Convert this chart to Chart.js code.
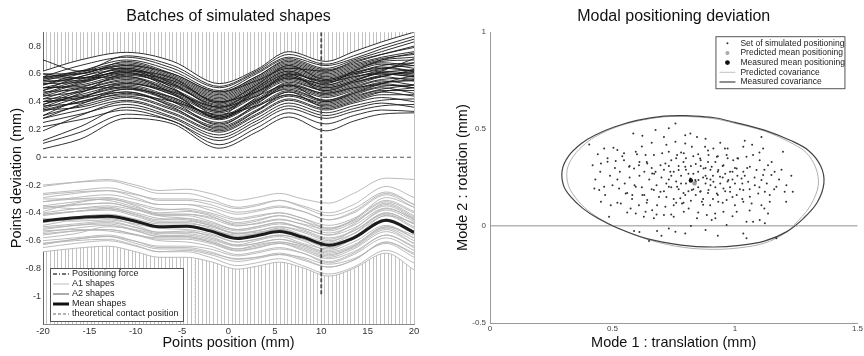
<!DOCTYPE html>
<html>
<head>
<meta charset="utf-8">
<script src="https://cdn.jsdelivr.net/npm/chart.js@4.4.1/dist/chart.umd.min.js"></script>
<style>
  body { margin: 0; background: #fff; }
  #wrap { position: relative; width: 864px; height: 356px; }
  canvas { position: absolute; top: 0; }
  #shapes { left: 0; }
  #modal { left: 432px; }
</style>
</head>
<body>
<div id="wrap">
  <canvas id="shapes" width="432" height="356"></canvas>
  <canvas id="modal" width="432" height="356"></canvas>
</div>
<script>
// ---- left panel: batches of simulated shapes ----
const A2_X = [-20, -16, -11, -6, -1, 3, 6.5, 10.5, 13.5, 16.5, 20];
const A2_SHAPES = [
  [0.62, 0.70, 0.755, 0.69, 0.53, 0.63, 0.76, 0.69, 0.76, 0.83, 0.90],
  [0.70, 0.62, 0.73, 0.66, 0.51, 0.62, 0.74, 0.67, 0.73, 0.80, 0.87],
  [0.58, 0.66, 0.72, 0.64, 0.50, 0.61, 0.72, 0.66, 0.71, 0.78, 0.85],
  [0.56, 0.62, 0.70, 0.62, 0.48, 0.60, 0.71, 0.64, 0.70, 0.76, 0.83],
  [0.60, 0.60, 0.69, 0.60, 0.47, 0.58, 0.70, 0.63, 0.68, 0.74, 0.79],
  [0.55, 0.61, 0.68, 0.59, 0.46, 0.58, 0.69, 0.62, 0.67, 0.72, 0.76],
  [0.58, 0.60, 0.67, 0.58, 0.45, 0.57, 0.68, 0.61, 0.66, 0.71, 0.74],
  [0.52, 0.58, 0.66, 0.57, 0.44, 0.56, 0.67, 0.60, 0.65, 0.70, 0.72],
  [0.57, 0.57, 0.65, 0.56, 0.43, 0.55, 0.66, 0.59, 0.64, 0.69, 0.70],
  [0.50, 0.56, 0.64, 0.55, 0.42, 0.54, 0.65, 0.58, 0.63, 0.68, 0.66],
  [0.55, 0.55, 0.63, 0.54, 0.41, 0.53, 0.64, 0.57, 0.62, 0.67, 0.64],
  [0.48, 0.55, 0.62, 0.53, 0.40, 0.52, 0.63, 0.56, 0.61, 0.66, 0.68],
  [0.53, 0.54, 0.61, 0.52, 0.39, 0.51, 0.62, 0.55, 0.60, 0.65, 0.62],
  [0.45, 0.53, 0.60, 0.51, 0.38, 0.50, 0.61, 0.54, 0.59, 0.64, 0.66],
  [0.50, 0.51, 0.58, 0.49, 0.36, 0.48, 0.59, 0.52, 0.57, 0.62, 0.60],
  [0.42, 0.50, 0.57, 0.48, 0.35, 0.47, 0.58, 0.51, 0.56, 0.61, 0.63],
  [0.47, 0.49, 0.56, 0.47, 0.34, 0.46, 0.57, 0.50, 0.55, 0.60, 0.58],
  [0.40, 0.48, 0.55, 0.46, 0.33, 0.45, 0.56, 0.49, 0.54, 0.59, 0.61],
  [0.44, 0.47, 0.54, 0.45, 0.32, 0.44, 0.55, 0.48, 0.53, 0.58, 0.55],
  [0.38, 0.45, 0.52, 0.43, 0.30, 0.42, 0.53, 0.46, 0.51, 0.56, 0.57],
  [0.42, 0.44, 0.51, 0.42, 0.29, 0.41, 0.52, 0.45, 0.50, 0.55, 0.52],
  [0.35, 0.43, 0.50, 0.41, 0.28, 0.40, 0.51, 0.44, 0.49, 0.54, 0.55],
  [0.40, 0.42, 0.49, 0.40, 0.27, 0.39, 0.50, 0.43, 0.48, 0.53, 0.50],
  [0.33, 0.40, 0.47, 0.38, 0.25, 0.37, 0.48, 0.41, 0.46, 0.51, 0.52],
  [0.37, 0.39, 0.46, 0.37, 0.24, 0.36, 0.47, 0.40, 0.45, 0.50, 0.46],
  [0.30, 0.37, 0.44, 0.35, 0.22, 0.34, 0.45, 0.38, 0.43, 0.48, 0.48],
  [0.34, 0.36, 0.43, 0.34, 0.21, 0.33, 0.44, 0.37, 0.42, 0.47, 0.44],
  [0.28, 0.34, 0.41, 0.32, 0.19, 0.31, 0.42, 0.35, 0.40, 0.45, 0.45],
  [0.19, 0.30, 0.40, 0.31, 0.18, 0.30, 0.41, 0.34, 0.39, 0.43, 0.40],
  [0.25, 0.31, 0.38, 0.29, 0.16, 0.28, 0.39, 0.32, 0.37, 0.41, 0.42],
  [0.12, 0.22, 0.36, 0.28, 0.14, 0.26, 0.37, 0.30, 0.35, 0.39, 0.36],
  [0.22, 0.27, 0.34, 0.26, 0.12, 0.24, 0.35, 0.28, 0.33, 0.37, 0.38],
  [0.10, 0.18, 0.31, 0.26, 0.09, 0.21, 0.32, 0.24, 0.30, 0.34, 0.33],
  [0.06, 0.13, 0.28, 0.24, 0.065, 0.18, 0.29, 0.19, 0.26, 0.31, 0.32],
  [0.48, 0.58, 0.63, 0.50, 0.30, 0.50, 0.62, 0.52, 0.58, 0.60, 0.58],
  [0.36, 0.46, 0.60, 0.55, 0.40, 0.47, 0.57, 0.53, 0.62, 0.70, 0.75],
  [0.60, 0.57, 0.58, 0.46, 0.28, 0.43, 0.60, 0.47, 0.52, 0.58, 0.62],
  [0.30, 0.42, 0.53, 0.47, 0.36, 0.44, 0.52, 0.46, 0.50, 0.52, 0.50],
  [0.52, 0.60, 0.66, 0.60, 0.47, 0.55, 0.64, 0.62, 0.69, 0.74, 0.80],
  [0.44, 0.50, 0.50, 0.40, 0.23, 0.38, 0.52, 0.40, 0.46, 0.53, 0.59],
  [0.57, 0.62, 0.64, 0.53, 0.36, 0.49, 0.60, 0.55, 0.60, 0.63, 0.68],
  [0.34, 0.40, 0.45, 0.40, 0.31, 0.37, 0.45, 0.39, 0.44, 0.49, 0.52],
  [0.46, 0.54, 0.62, 0.57, 0.39, 0.52, 0.66, 0.56, 0.61, 0.64, 0.62],
  [0.40, 0.43, 0.47, 0.36, 0.20, 0.33, 0.47, 0.36, 0.41, 0.47, 0.50],
  [0.28, 0.38, 0.49, 0.43, 0.29, 0.41, 0.49, 0.41, 0.47, 0.53, 0.56],
  [0.54, 0.57, 0.61, 0.49, 0.33, 0.47, 0.58, 0.50, 0.55, 0.62, 0.71],
  [0.50, 0.52, 0.59, 0.52, 0.37, 0.49, 0.60, 0.54, 0.58, 0.61, 0.59],
  [0.38, 0.47, 0.53, 0.45, 0.28, 0.40, 0.54, 0.48, 0.54, 0.58, 0.63]
];

const A1_X = [-20, -16.5, -13, -10, -7.5, -4.5, -2, 1, 3, 5.5, 8, 10.8, 13.5, 17, 20];
const A1_SHAPES = [
  [-0.21, -0.18, -0.16, -0.20, -0.24, -0.23, -0.26, -0.31, -0.29, -0.26, -0.30, -0.33, -0.26, -0.15, -0.16],
  [-0.20, -0.18, -0.17, -0.215, -0.26, -0.26, -0.30, -0.36, -0.34, -0.31, -0.36, -0.42, -0.37, -0.25, -0.34],
  [-0.29, -0.26, -0.24, -0.27, -0.30, -0.30, -0.32, -0.37, -0.35, -0.31, -0.35, -0.40, -0.34, -0.21, -0.29],
  [-0.26, -0.24, -0.22, -0.265, -0.31, -0.31, -0.34, -0.395, -0.38, -0.35, -0.39, -0.45, -0.40, -0.27, -0.36],
  [-0.32, -0.29, -0.27, -0.305, -0.34, -0.34, -0.36, -0.41, -0.39, -0.36, -0.39, -0.45, -0.39, -0.26, -0.34],
  [-0.27, -0.25, -0.24, -0.29, -0.34, -0.34, -0.38, -0.44, -0.42, -0.40, -0.44, -0.51, -0.46, -0.34, -0.43],
  [-0.35, -0.32, -0.30, -0.34, -0.38, -0.37, -0.40, -0.45, -0.43, -0.40, -0.44, -0.49, -0.44, -0.31, -0.39],
  [-0.32, -0.30, -0.29, -0.33, -0.37, -0.38, -0.41, -0.47, -0.45, -0.42, -0.46, -0.53, -0.47, -0.35, -0.44],
  [-0.40, -0.37, -0.35, -0.38, -0.41, -0.41, -0.43, -0.48, -0.46, -0.42, -0.46, -0.51, -0.45, -0.32, -0.40],
  [-0.37, -0.345, -0.33, -0.37, -0.41, -0.41, -0.44, -0.495, -0.475, -0.445, -0.485, -0.545, -0.49, -0.365, -0.45],
  [-0.36, -0.34, -0.33, -0.375, -0.42, -0.42, -0.46, -0.52, -0.50, -0.47, -0.52, -0.58, -0.53, -0.41, -0.50],
  [-0.42, -0.39, -0.37, -0.41, -0.45, -0.44, -0.47, -0.52, -0.50, -0.47, -0.51, -0.56, -0.51, -0.38, -0.46],
  [-0.41, -0.39, -0.37, -0.415, -0.46, -0.46, -0.49, -0.545, -0.53, -0.50, -0.54, -0.60, -0.55, -0.42, -0.51],
  [-0.46, -0.43, -0.41, -0.445, -0.48, -0.48, -0.50, -0.55, -0.53, -0.50, -0.53, -0.59, -0.53, -0.40, -0.48],
  [-0.41, -0.39, -0.38, -0.425, -0.47, -0.47, -0.51, -0.57, -0.55, -0.52, -0.57, -0.63, -0.58, -0.46, -0.55],
  [-0.47, -0.44, -0.43, -0.465, -0.50, -0.50, -0.53, -0.585, -0.565, -0.53, -0.57, -0.63, -0.57, -0.445, -0.53],
  [-0.46, -0.44, -0.43, -0.47, -0.51, -0.52, -0.55, -0.61, -0.59, -0.56, -0.60, -0.67, -0.61, -0.49, -0.58],
  [-0.52, -0.49, -0.47, -0.505, -0.54, -0.54, -0.56, -0.61, -0.59, -0.56, -0.59, -0.65, -0.59, -0.46, -0.54],
  [-0.50, -0.48, -0.46, -0.505, -0.55, -0.55, -0.58, -0.635, -0.62, -0.59, -0.63, -0.69, -0.64, -0.51, -0.60],
  [-0.54, -0.51, -0.49, -0.53, -0.57, -0.56, -0.59, -0.64, -0.62, -0.59, -0.63, -0.68, -0.63, -0.50, -0.58],
  [-0.51, -0.49, -0.48, -0.525, -0.57, -0.57, -0.61, -0.67, -0.65, -0.62, -0.67, -0.73, -0.68, -0.56, -0.65],
  [-0.56, -0.53, -0.52, -0.555, -0.59, -0.59, -0.62, -0.675, -0.655, -0.62, -0.66, -0.72, -0.66, -0.535, -0.62],
  [-0.55, -0.53, -0.52, -0.56, -0.60, -0.61, -0.64, -0.70, -0.68, -0.65, -0.69, -0.76, -0.70, -0.58, -0.67],
  [-0.62, -0.59, -0.57, -0.605, -0.64, -0.64, -0.66, -0.71, -0.69, -0.66, -0.69, -0.75, -0.69, -0.56, -0.64],
  [-0.60, -0.58, -0.56, -0.605, -0.65, -0.65, -0.68, -0.735, -0.72, -0.69, -0.73, -0.79, -0.74, -0.61, -0.70],
  [-0.65, -0.62, -0.60, -0.64, -0.68, -0.67, -0.70, -0.75, -0.73, -0.70, -0.74, -0.79, -0.74, -0.61, -0.69],
  [-0.62, -0.60, -0.59, -0.635, -0.68, -0.68, -0.72, -0.78, -0.76, -0.73, -0.78, -0.84, -0.79, -0.67, -0.76],
  [-0.30, -0.30, -0.31, -0.36, -0.40, -0.39, -0.42, -0.49, -0.48, -0.45, -0.48, -0.52, -0.45, -0.29, -0.36],
  [-0.39, -0.33, -0.30, -0.35, -0.42, -0.44, -0.48, -0.53, -0.51, -0.48, -0.51, -0.56, -0.48, -0.33, -0.42],
  [-0.44, -0.46, -0.45, -0.48, -0.51, -0.49, -0.52, -0.56, -0.55, -0.51, -0.56, -0.61, -0.52, -0.37, -0.44],
  [-0.58, -0.55, -0.50, -0.52, -0.56, -0.57, -0.60, -0.66, -0.63, -0.61, -0.64, -0.70, -0.65, -0.52, -0.62],
  [-0.49, -0.45, -0.44, -0.49, -0.54, -0.53, -0.57, -0.63, -0.60, -0.57, -0.62, -0.66, -0.58, -0.42, -0.47],
  [-0.63, -0.59, -0.57, -0.62, -0.66, -0.66, -0.69, -0.73, -0.72, -0.70, -0.72, -0.77, -0.73, -0.62, -0.72],
  [-0.35, -0.37, -0.36, -0.40, -0.44, -0.45, -0.49, -0.55, -0.54, -0.52, -0.57, -0.62, -0.55, -0.40, -0.48],
  [-0.53, -0.52, -0.53, -0.56, -0.58, -0.58, -0.61, -0.66, -0.64, -0.61, -0.65, -0.71, -0.64, -0.50, -0.56],
  [-0.68, -0.655, -0.64, -0.68, -0.72, -0.72, -0.75, -0.805, -0.785, -0.755, -0.795, -0.855, -0.80, -0.69, -0.81]
];
const A1_MEAN = [-0.458, -0.435, -0.424, -0.46, -0.50, -0.497, -0.53, -0.585, -0.565, -0.535, -0.575, -0.633, -0.58, -0.453, -0.54];

const FORCE_X = 10;
const FORCE_Y = [0.9, -1.0];
const CONTACT_X = [-20, 20];
const CONTACT_Y = 0;
const MARK_X = -3.6;
const MARK_Y = [-0.74, -1.2];

const X_TICKS_L = [-20, -15, -10, -5, 0, 5, 10, 15, 20];
const Y_TICKS_L = [-1, -0.8, -0.6, -0.4, -0.2, 0, 0.2, 0.4, 0.6, 0.8];
const PROBE_STEP = 0.4;

// ---- right panel: modal positioning deviation ----
const SIM_POINTS = [
  [0.757, 0.529], [0.730, 0.504], [0.676, 0.495], [0.585, 0.478], [0.622, 0.466], [0.710, 0.460],
  [0.797, 0.469], [0.818, 0.478], [0.757, 0.435], [0.797, 0.426], [0.824, 0.409], [0.405, 0.421],
  [0.466, 0.400], [0.504, 0.404], [0.520, 0.392], [0.547, 0.375], [0.595, 0.383], [0.635, 0.366],
  [0.669, 0.366], [0.703, 0.375], [0.730, 0.383], [0.764, 0.366], [0.791, 0.375], [0.419, 0.314],
  [0.453, 0.323], [0.480, 0.332], [0.513, 0.335], [0.547, 0.340], [0.568, 0.306], [0.588, 0.297],
  [0.608, 0.314], [0.642, 0.323], [0.662, 0.271], [0.676, 0.280], [0.696, 0.314], [0.716, 0.323],
  [0.736, 0.280], [0.770, 0.289], [0.797, 0.306], [0.818, 0.246], [0.838, 0.237], [0.426, 0.194],
  [0.446, 0.186], [0.466, 0.203], [0.500, 0.211], [0.527, 0.194], [0.554, 0.168], [0.581, 0.160],
  [0.595, 0.203], [0.622, 0.160], [0.642, 0.134], [0.669, 0.186], [0.696, 0.177], [0.730, 0.203],
  [0.764, 0.203], [0.777, 0.143], [0.797, 0.160], [0.824, 0.186], [0.453, 0.125], [0.493, 0.108],
  [0.534, 0.117], [0.574, 0.091], [0.608, 0.108], [0.635, 0.074], [0.662, 0.082], [0.682, 0.108],
  [0.716, 0.100], [0.750, 0.108], [0.784, 0.117], [0.811, 0.091], [0.595, 0.065], [0.628, 0.048],
  [0.669, 0.040], [0.710, 0.057], [0.750, 0.048], [0.791, 0.074], [0.486, 0.048], [0.588, -0.026],
  [0.682, -0.026], [0.730, -0.012], [0.757, -0.029], [0.797, -0.038], [0.649, -0.077],
  [0.845, 0.460], [0.878, 0.409], [0.912, 0.400], [0.959, 0.400], [1.034, 0.409], [1.108, 0.460],
  [1.115, 0.400], [1.196, 0.383], [0.858, 0.349], [0.892, 0.366], [0.926, 0.357], [0.966, 0.366],
  [0.993, 0.340], [1.013, 0.349], [1.047, 0.357], [1.074, 0.366], [1.101, 0.340], [1.135, 0.314],
  [1.162, 0.280], [0.872, 0.297], [0.905, 0.306], [0.932, 0.289], [0.953, 0.314], [0.980, 0.280],
  [1.007, 0.297], [1.034, 0.280], [1.061, 0.306], [1.088, 0.289], [1.115, 0.263], [1.149, 0.263],
  [0.851, 0.237], [0.885, 0.246], [0.912, 0.228], [0.939, 0.254], [0.973, 0.237], [1.000, 0.220],
  [1.027, 0.246], [1.054, 0.228], [1.081, 0.211], [1.108, 0.237], [1.169, 0.203], [1.203, 0.177],
  [1.236, 0.177], [0.858, 0.177], [0.892, 0.186], [0.926, 0.168], [0.953, 0.194], [0.980, 0.177],
  [1.007, 0.160], [1.034, 0.186], [1.061, 0.151], [1.095, 0.168], [1.122, 0.177], [1.142, 0.160],
  [1.209, 0.125], [0.865, 0.125], [0.899, 0.108], [0.932, 0.125], [0.966, 0.134], [1.000, 0.108],
  [1.034, 0.125], [1.068, 0.117], [1.108, 0.108], [1.142, 0.125], [0.885, 0.057], [0.919, 0.065],
  [0.953, 0.074], [1.007, 0.074], [1.047, 0.022], [1.074, 0.022], [1.101, 0.031], [1.122, 0.014],
  [1.135, 0.065], [0.966, 0.005], [1.034, -0.038], [1.047, -0.063], [1.169, -0.063], [0.905, 0.031],
  [0.845, 0.040],
  [0.78, 0.26], [0.80, 0.22], [0.83, 0.27], [0.85, 0.20], [0.87, 0.25], [0.82, 0.31], [0.76, 0.23],
  [0.74, 0.26], [0.79, 0.33], [0.88, 0.30], [0.90, 0.21], [0.84, 0.16], [0.81, 0.18], [0.77, 0.19],
  [0.72, 0.22], [0.70, 0.25], [0.68, 0.21], [0.66, 0.30], [0.73, 0.31], [0.86, 0.34], [0.89, 0.17],
  [0.91, 0.26], [0.94, 0.22], [0.96, 0.27], [0.99, 0.24], [0.95, 0.31], [0.92, 0.33], [0.83, 0.36],
  [0.76, 0.35], [0.71, 0.18], [0.65, 0.24], [0.63, 0.28], [0.62, 0.20], [0.69, 0.15], [0.75, 0.14],
  [0.79, 0.12], [0.87, 0.14], [0.93, 0.16], [0.98, 0.20], [1.02, 0.19], [1.04, 0.26], [1.00, 0.30],
  [0.97, 0.35], [0.85, 0.28], [0.80, 0.29], [0.74, 0.20], [0.82, 0.24], [0.88, 0.22], [0.84, 0.32],
  [0.90, 0.29], [0.61, 0.33], [0.57, 0.25], [0.55, 0.22], [0.53, 0.28], [0.58, 0.14], [0.64, 0.12],
  [0.71, 0.29], [0.73, 0.24], [0.75, 0.28], [0.77, 0.31], [0.78, 0.22], [0.79, 0.17], [0.81, 0.27],
  [0.83, 0.19], [0.84, 0.23], [0.86, 0.31], [0.86, 0.18], [0.88, 0.26], [0.89, 0.33], [0.90, 0.24],
  [0.92, 0.20], [0.93, 0.28], [0.95, 0.25], [0.96, 0.18], [0.97, 0.23], [0.99, 0.28], [1.01, 0.26],
  [1.03, 0.22], [1.05, 0.30], [1.06, 0.19], [0.72, 0.15], [0.74, 0.34], [0.76, 0.12], [0.78, 0.38],
  [0.80, 0.35], [0.82, 0.13], [0.85, 0.37], [0.87, 0.11], [0.89, 0.39], [0.91, 0.14], [0.93, 0.36],
  [0.95, 0.12], [0.97, 0.40], [0.99, 0.15], [1.01, 0.35], [1.03, 0.14], [0.67, 0.27], [0.66, 0.19],
  [0.64, 0.33], [0.63, 0.16], [0.61, 0.26], [0.60, 0.37], [0.59, 0.21], [0.57, 0.31], [0.56, 0.17],
  [0.54, 0.36], [0.52, 0.24], [0.51, 0.30], [0.49, 0.26], [0.48, 0.35], [0.47, 0.16], [0.45, 0.28],
  [0.44, 0.37], [0.43, 0.24], [1.08, 0.25], [1.10, 0.20], [1.12, 0.29], [1.13, 0.22], [1.15, 0.33],
  [1.16, 0.19], [1.18, 0.24], [1.19, 0.29], [1.21, 0.21], [1.23, 0.26], [1.10, 0.38], [1.07, 0.42],
  [1.04, 0.44], [0.94, 0.43], [0.88, 0.45], [0.72, 0.42], [0.66, 0.43], [0.62, 0.41], [0.68, 0.06],
  [0.74, 0.06], [0.85, 0.07], [0.92, 0.04], [0.99, 0.05], [1.06, 0.08], [1.12, 0.09], [0.56, 0.07],
  [0.52, 0.12], [0.82, 0.00], [0.88, -0.02], [0.93, -0.05], [0.70, -0.05], [0.61, -0.03]
];
const PRED_MEAN = [0.835, 0.22];
const MEAS_MEAN = [0.82, 0.235];
const MEAS_COV = [
  [0.80, 0.570], [0.71, 0.567], [0.60, 0.545], [0.51, 0.512], [0.43, 0.47], [0.373, 0.426],
  [0.32, 0.36], [0.295, 0.29], [0.30, 0.21], [0.33, 0.15], [0.38, 0.09], [0.44, 0.04],
  [0.52, -0.01], [0.64, -0.065], [0.78, -0.098], [0.91, -0.108], [1.02, -0.10], [1.12, -0.078],
  [1.21, -0.03], [1.28, 0.04], [1.335, 0.12], [1.363, 0.22], [1.35, 0.31], [1.30, 0.39],
  [1.23, 0.44], [1.12, 0.495], [1.00, 0.535], [0.91, 0.56], [0.80, 0.570]
];
const PRED_COV = [
  [0.80, 0.566], [0.71, 0.563], [0.60, 0.541], [0.51, 0.508], [0.44, 0.468], [0.39, 0.426],
  [0.34, 0.36], [0.315, 0.29], [0.32, 0.21], [0.35, 0.145], [0.40, 0.08], [0.46, 0.03],
  [0.54, -0.02], [0.66, -0.075], [0.79, -0.11], [0.91, -0.12], [1.02, -0.112], [1.12, -0.088],
  [1.20, -0.04], [1.26, 0.03], [1.31, 0.11], [1.34, 0.21], [1.33, 0.30], [1.29, 0.38],
  [1.22, 0.435], [1.12, 0.49], [1.00, 0.53], [0.91, 0.555], [0.80, 0.566]
];
const X_TICKS_R = [0, 0.5, 1, 1.5];
const Y_TICKS_R = [-0.5, 0, 0.5, 1];

Chart.defaults.font.family = '"Liberation Sans", Arial, Helvetica, sans-serif';
Chart.defaults.color = '#333';
Chart.defaults.animation = false;

const toXY = (xs, ys) => xs.map((x, i) => ({ x: x, y: ys[i] }));
const pairs = list => list.map(p => ({ x: p[0], y: p[1] }));
const fixTicks = values => axis => { axis.ticks = values.map(v => ({ value: v })); };

// legend drawn inside the plot, like the original figure
function boxLegend(id, items, place) {
  return {
    id: id,
    afterDraw(chart) {
      const ctx = chart.ctx;
      const b = place(chart.chartArea);
      ctx.save();
      ctx.fillStyle = '#fff';
      ctx.fillRect(b.x, b.y, b.w, b.h);
      ctx.strokeStyle = '#555';
      ctx.lineWidth = 1;
      ctx.strokeRect(b.x + 0.5, b.y + 0.5, b.w, b.h);
      ctx.font = b.font + 'px "Liberation Sans", Arial, sans-serif';
      ctx.textBaseline = 'middle';
      items.forEach((it, i) => {
        const y = b.y + b.first + i * b.row;
        if (it.dot) {
          ctx.fillStyle = it.color;
          ctx.beginPath();
          ctx.arc(b.x + b.sample + 8, y, it.dot, 0, Math.PI * 2);
          ctx.fill();
        } else {
          ctx.strokeStyle = it.color;
          ctx.lineWidth = it.width;
          ctx.setLineDash(it.dash || []);
          ctx.beginPath();
          ctx.moveTo(b.x + b.sample, y);
          ctx.lineTo(b.x + b.sample + 16, y);
          ctx.stroke();
          ctx.setLineDash([]);
        }
        ctx.fillStyle = '#222';
        ctx.fillText(it.text, b.x + b.text, y);
      });
      ctx.restore();
    }
  };
}

// ---------- left chart ----------
const shapeSets = [];
shapeSets.push({
  label: 'Mean shapes', data: toXY(A1_X, A1_MEAN),
  borderColor: '#1c1c1c', borderWidth: 3, cubicInterpolationMode: 'monotone'
});
shapeSets.push({
  label: 'Positioning force', data: FORCE_Y.map(y => ({ x: FORCE_X, y: y })),
  borderColor: '#4a4a4a', borderWidth: 1.8, borderDash: [4, 2]
});
shapeSets.push({
  label: 'theoretical contact position', data: CONTACT_X.map(x => ({ x: x, y: CONTACT_Y })),
  borderColor: '#555', borderWidth: 1.2, borderDash: [4, 3]
});
shapeSets.push({
  label: 'contact mark', data: MARK_Y.map(y => ({ x: MARK_X, y: y })),
  borderColor: '#c8c8c8', borderWidth: 1, borderDash: [2, 2]
});
A1_SHAPES.forEach((row, i) => {
  shapeSets.push({
    label: 'A1 shapes ' + (i + 1), data: toXY(A1_X, row),
    borderColor: '#b3b3b3', borderWidth: 0.9, cubicInterpolationMode: 'monotone'
  });
});
const lowestA1 = shapeSets.length - 1;
A2_SHAPES.forEach((row, i) => {
  const ds = {
    label: 'A2 shapes ' + (i + 1), data: toXY(A2_X, row),
    borderColor: '#1a1a1a', borderWidth: 0.9, cubicInterpolationMode: 'monotone'
  };
  if (i === 0) {
    // white band between the two batches hides the probe lines
    ds.fill = { target: lowestA1 };
    ds.backgroundColor = '#fff';
  }
  shapeSets.push(ds);
});

new Chart(document.getElementById('shapes'), {
  type: 'line',
  data: { datasets: shapeSets },
  options: {
    responsive: false,
    elements: { point: { radius: 0 } },
    layout: { autoPadding: false, padding: { left: 4, right: 18, top: 0, bottom: 0 } },
    plugins: {
      legend: { display: false },
      tooltip: { enabled: false },
      filler: { drawTime: 'beforeDatasetsDraw' },
      title: {
        display: true, text: 'Batches of simulated shapes', fullSize: false,
        color: '#111', font: { size: 16, weight: 'normal' }, padding: { top: 7, bottom: 6 }
      }
    },
    scales: {
      x: {
        type: 'linear', min: -20, max: 20, position: 'bottom',
        afterBuildTicks: fixTicks(X_TICKS_L),
        afterFit: a => { a.height = 32; },
        ticks: { font: { size: 9.5 }, color: '#333', padding: 2 },
        grid: { display: false, drawTicks: false },
        border: { color: '#8a8a8a' },
        title: { display: true, text: 'Points position (mm)', color: '#111', font: { size: 14.5 }, padding: { top: 0, bottom: 4 } }
      },
      xg: {
        type: 'linear', min: -20, max: 20, position: 'bottom',
        afterFit: a => { a.height = 0; },
        ticks: { display: false, stepSize: PROBE_STEP, maxTicksLimit: 200 },
        grid: { color: '#c2c2c2', lineWidth: 1, drawTicks: false },
        border: { display: false }
      },
      y: {
        min: -1.2, max: 0.9,
        afterBuildTicks: fixTicks(Y_TICKS_L),
        afterFit: a => { a.width = 39; },
        ticks: { font: { size: 9 }, color: '#333', padding: 2, callback: v => String(v) },
        grid: { display: false, drawTicks: false },
        border: { color: '#666' },
        title: { display: true, text: 'Points deviation (mm)', color: '#111', font: { size: 14.5 }, padding: { top: 4, bottom: 0 } }
      }
    }
  },
  plugins: [boxLegend('shapesLegend', [
    { text: 'Positioning force', color: '#444', width: 1.5, dash: [4, 2, 1, 2] },
    { text: 'A1 shapes', color: '#bdbdbd', width: 1 },
    { text: 'A2 shapes', color: '#555', width: 1 },
    { text: 'Mean shapes', color: '#111', width: 3 },
    { text: 'theoretical contact position', color: '#666', width: 1, dash: [3, 2] }
  ], a => ({ x: a.left + 7, y: a.bottom - 56, w: 133, h: 53, first: 6, row: 10, sample: 3, text: 22, font: 9 }))]
});

// ---------- right chart ----------
new Chart(document.getElementById('modal'), {
  type: 'scatter',
  data: {
    datasets: [
      {
        label: 'Measured mean positioning', data: pairs([MEAS_MEAN]),
        pointRadius: 2.2, backgroundColor: '#111', borderWidth: 0
      },
      {
        label: 'Predicted mean positioning', data: pairs([PRED_MEAN]),
        pointRadius: 2.2, backgroundColor: '#999', borderWidth: 0
      },
      {
        label: 'Set of simulated positioning', data: pairs(SIM_POINTS),
        pointRadius: 1, backgroundColor: '#333', borderWidth: 0
      },
      {
        label: 'Measured covariance', data: pairs(MEAS_COV), showLine: true, tension: 0.35,
        pointRadius: 0, borderColor: '#444', borderWidth: 1.2
      },
      {
        label: 'Predicted covariance', data: pairs(PRED_COV), showLine: true, tension: 0.35,
        pointRadius: 0, borderColor: '#b0b0b0', borderWidth: 1
      }
    ]
  },
  options: {
    responsive: false,
    layout: { autoPadding: false, padding: { left: 18, right: 4, top: 0, bottom: 0 } },
    plugins: {
      legend: { display: false },
      tooltip: { enabled: false },
      title: {
        display: true, text: 'Modal positioning deviation', fullSize: false,
        color: '#111', font: { size: 16, weight: 'normal' }, padding: { top: 7, bottom: 6 }
      }
    },
    scales: {
      x: {
        type: 'linear', min: 0, max: 1.5,
        afterBuildTicks: fixTicks(X_TICKS_R),
        afterFit: a => { a.height = 33; },
        ticks: { font: { size: 8 }, color: '#444', padding: 1, callback: v => String(v) },
        grid: { display: false, drawTicks: false },
        border: { color: '#999' },
        title: { display: true, text: 'Mode 1 : translation (mm)', color: '#111', font: { size: 14.5 }, padding: { top: 0, bottom: 4 } }
      },
      y: {
        min: -0.5, max: 1,
        afterBuildTicks: fixTicks(Y_TICKS_R),
        afterFit: a => { a.width = 40; },
        ticks: { font: { size: 8 }, color: '#444', padding: 4, callback: v => String(v) },
        grid: {
          drawTicks: false,
          color: c => (c.tick && c.tick.value === 0 ? '#b5b5b5' : 'rgba(0,0,0,0)'),
          lineWidth: c => (c.tick && c.tick.value === 0 ? 1.6 : 0)
        },
        border: { color: '#999' },
        title: { display: true, text: 'Mode 2 : rotation (mm)', color: '#111', font: { size: 14.5 }, padding: { top: 4, bottom: 0 } }
      }
    }
  },
  plugins: [boxLegend('modalLegend', [
    { text: 'Set of simulated positioning', color: '#333', dot: 1 },
    { text: 'Predicted mean positioning', color: '#aaa', dot: 2 },
    { text: 'Measured mean positioning', color: '#111', dot: 2.4 },
    { text: 'Predicted covariance', color: '#c0c0c0', width: 1 },
    { text: 'Measured covariance', color: '#444', width: 1.2 }
  ], a => ({ x: a.right - 142, y: a.top + 4, w: 129, h: 52, first: 7, row: 9.7, sample: 4, text: 25, font: 8.5 }))]
});
</script>
</body>
</html>
